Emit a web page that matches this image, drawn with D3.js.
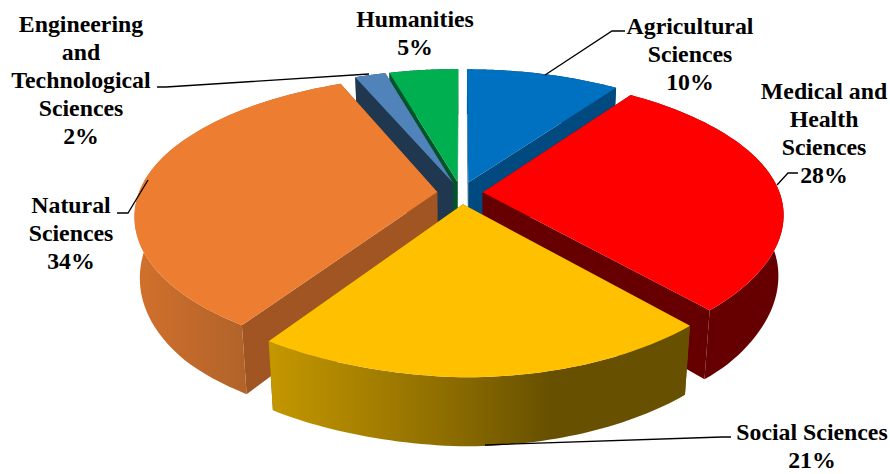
<!DOCTYPE html>
<html><head><meta charset="utf-8">
<script src="https://cdn.jsdelivr.net/npm/d3@7/dist/d3.min.js"></script>
<style>html,body{margin:0;padding:0;background:#fff}svg{display:block}</style>
</head><body><div id="c"></div>
<script>
// Data
const categories = ["Agricultural Sciences","Medical and Health Sciences","Social Sciences","Natural Sciences","Engineering and Technological Sciences","Humanities"];
const values = [10, 28, 21.4, 34.1, 2, 4.5];
const labelLines = [["Agricultural","Sciences"],["Medical and","Health","Sciences"],["Social Sciences"],["Natural","Sciences"],["Engineering","and","Technological","Sciences"],["Humanities"]];
// Styles
const topColors  = ["#0070c0","#ff0000","#ffc000","#ed7d31","#5083ba","#00b050"];
const sideColors = ["#004a80","#660000","#7a5c00","#a05522","#1f3850","#005528"];
// Layout
const W=890,H=474,cx=461,cy=193,R=300;
const explodeBy=[24,22,24,24,24,24];
const labelPos = [[690,26],[824,91],[812,432],[71,205],[81,24],[415,19]];
const leaders = [
 [[545,75],[612,31],[625,31]],
 [[777,185],[788,173],[798,173]],
 [[485,445],[722,437],[731,437]],
 [[148,180],[128,213],[117,213]],
 [[369,74],[166,87],[157,87]],
 null];
const lineStep=27.9, fontSize=23.8;

const svg=d3.select("#c").append("svg").attr("width",W).attr("height",H);
const defs=svg.append("defs");
function grad(id,x1,x2,stops){
  const g=defs.append("linearGradient").attr("id",id).attr("gradientUnits","userSpaceOnUse")
    .attr("x1",x1).attr("x2",x2).attr("y1",0).attr("y2",0);
  stops.forEach(s=>g.append("stop").attr("offset",s[0]).attr("stop-color",s[1]));
}
grad("gy",270,600,[[0,"#c49700"],[0.55,"#8c6c00"],[0.85,"#675000"],[1,"#675000"]]);
grad("go",140,250,[[0,"#d0702c"],[1,"#b0622a"]]);

const rScale=d3.scaleLinear().domain([0,1]).range([0,R]);
// Perspective projection of a point on the pie plane, level 0 = top, 1 = bottom
function project(X,Y,level){
  const n=Y/R;
  const wy=n<0 ? 1+0.25*n+0.07*n*n : 1+0.17*n+0.02*n*n;
  const wx=1+0.16*n+0.04*n*n;
  let x=X/wx*(X>0?0.99:0.995), y=-Y*0.462/wy;
  if(X<0&&n<0){ x-=16*n*n*(-X/R); y-=8*n*n*(-X/R); }
  if(level){
    x*=0.985-0.008*Math.max(0,-n);
    y+=Math.min(69,60-14*n);
  }
  return [cx+x,cy+y];
}
const pie=d3.pie().sort(null).value(d=>d)(values);
const line=d3.line();
const slices=pie.map((p,i)=>{
  const mid=(p.startAngle+p.endAngle)/2, ox=explodeBy[i]*Math.sin(mid), oy=explodeBy[i]*Math.cos(mid);
  const pt=(a,r,l)=>project(ox+rScale(r)*Math.sin(a),oy+rScale(r)*Math.cos(a),l);
  const arc=l=>d3.range(0,61).map(k=>pt(p.startAngle+(p.endAngle-p.startAngle)*k/60,1,l));
  return {i,p,pt,arc};
});
// Back to front: Humanities, Engineering, Agricultural, Natural, Medical, Social
const order=[5,4,0,3,1,2];
const wallFill=i=>i===2?"url(#gy)":i===3?"url(#go)":sideColors[i];
const g=svg.append("g");
order.forEach(i=>{
  const s=slices[i];
  const a0=s.p.startAngle,a1=s.p.endAngle;
  const face=a=>[s.pt(a,0,0),s.pt(a,1,0),s.pt(a,1,1),s.pt(a,0,1)];
  g.append("path").attr("d",line(face(a1))+"Z").attr("fill",sideColors[i]);
  g.append("path").attr("d",line(face(a0))+"Z").attr("fill",sideColors[i]);
  g.append("path").attr("d",line(s.arc(0).concat(s.arc(1).reverse()))+"Z").attr("fill",wallFill(i));
  g.append("path").attr("d",line([s.pt(a0,0,0)].concat(s.arc(0)))+"Z").attr("fill",topColors[i]);
});
// Leader lines
svg.append("g").selectAll("path").data(leaders.filter(Boolean)).join("path")
  .attr("d",d=>line(d)).attr("fill","none").attr("stroke","#000").attr("stroke-width",1.3);
// Labels
const t=svg.append("g").attr("font-family","'Liberation Serif','Times New Roman',serif")
  .attr("font-weight","bold").attr("font-size",fontSize).attr("fill","#000").attr("text-anchor","middle");
categories.forEach((c,i)=>{
  const lines=labelLines[i].concat([Math.round(values[i])+"%"]);
  lines.forEach((l,k)=>{
    t.append("text").attr("x",labelPos[i][0]).attr("y",labelPos[i][1]+k*lineStep+8).text(l);
  });
});
</script></body></html>
